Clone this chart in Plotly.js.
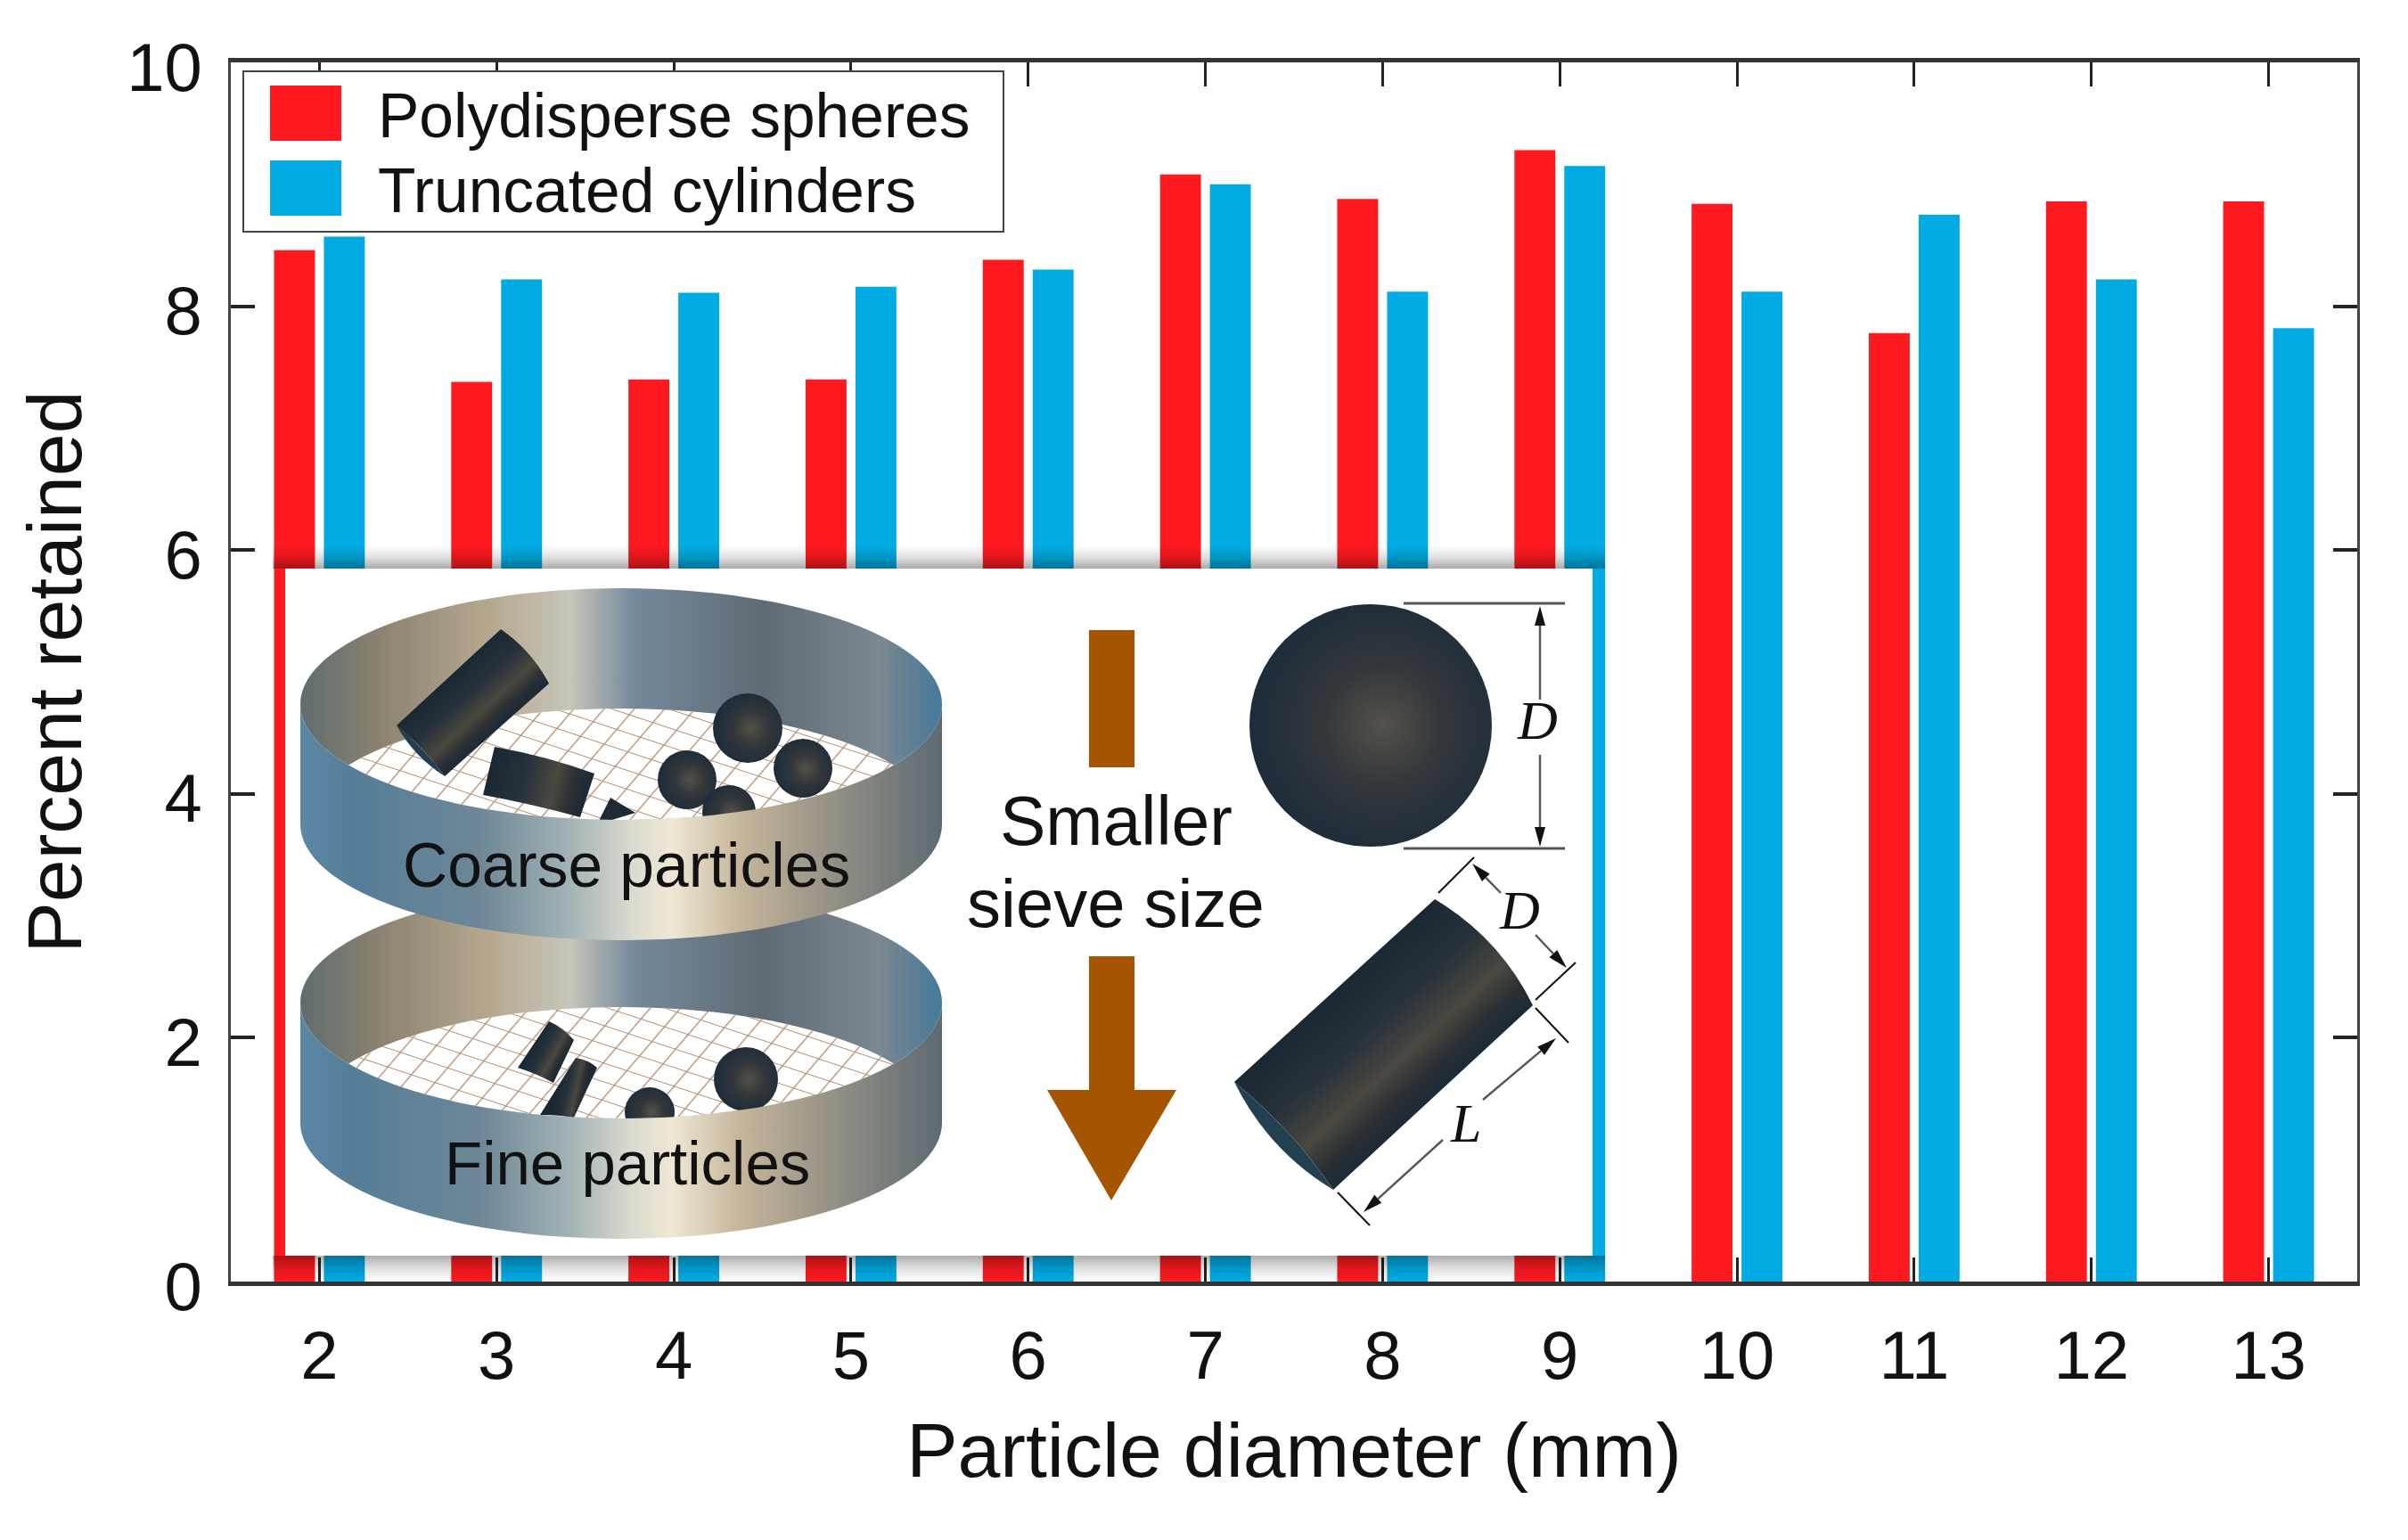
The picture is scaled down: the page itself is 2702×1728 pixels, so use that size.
<!DOCTYPE html>
<html>
<head>
<meta charset="utf-8">
<script src="https://cdn.plot.ly/plotly-3.0.1.min.js"></script>
<style>html,body{margin:0;padding:0;background:#fff}</style>
</head>
<body>
<div id="chart" style="width:2702px;height:1728px"></div>
<script>
// ---- chart data ----
var diameters = [2,3,4,5,6,7,8,9,10,11,12,13];
var sphereValues = [8.46,7.38,7.40,7.40,8.38,9.08,8.88,9.28,8.84,7.78,8.86,8.86];
var cylinderValues = [8.57,8.22,8.11,8.16,8.30,9.00,8.12,9.15,8.12,8.75,8.22,7.82];
var sphereName = 'Polydisperse spheres';
var cylinderName = 'Truncated cylinders';
var xTitle = 'Particle diameter (mm)';
var yTitle = 'Percent retained';
var yTicks = [0,2,4,6,8,10];

// ---- frame (page pixels) ----
var W = 2702, H = 1728, L = 259, R = 2645, T = 70, B = 1438;
function px(x){ return (x - L) / (R - L); }
function py(y){ return 1 - (y - T) / (B - T); }

// ---- inset illustration, an SVG placed as a layout image ----
var defs = '', body = '', gid = 0;
function stops(list){
  return list.map(function(s){ return '<stop offset="'+s[0]+'" stop-color="'+s[1]+'"'+(s[2]!==undefined?' stop-opacity="'+s[2]+'"':'')+'/>'; }).join('');
}
defs += '<linearGradient id="front" x1="0" x2="1" y1="0" y2="0">'+stops([[0,'#5c88a6'],[0.08,'#557d97'],[0.28,'#6d8797'],[0.42,'#a3b3b5'],[0.52,'#dcdcd0'],[0.58,'#efe8d4'],[0.68,'#c7b79c'],[0.85,'#8d8c82'],[1,'#5d6a72']])+'</linearGradient>';
defs += '<linearGradient id="back" x1="0" x2="1" y1="0" y2="0">'+stops([[0,'#5f6c6e'],[0.12,'#8a8270'],[0.3,'#b7a98f'],[0.42,'#c6c6ba'],[0.52,'#75899a'],[0.72,'#5f6b74'],[0.9,'#7b8890'],[1,'#45799a']])+'</linearGradient>';
defs += '<radialGradient id="ball" cx="0.55" cy="0.5" r="0.55">'+stops([[0,'#54514a'],[0.45,'#33373a'],[1,'#1c2c3a']])+'</radialGradient>';
defs += '<pattern id="mesh" width="30" height="30" patternUnits="userSpaceOnUse" patternTransform="scale(1,0.62) rotate(28)">'+
        '<path d="M0 0H30M0 0V30" stroke="#b4896a" stroke-width="3" fill="none"/></pattern>';
defs += '<linearGradient id="shTop" x1="0" x2="0" y1="0" y2="1">'+stops([[0,'#000',0],[0.5,'#000',0.12],[1,'#000',0.33]])+'</linearGradient>';
defs += '<linearGradient id="shBot" x1="0" x2="0" y1="0" y2="1">'+stops([[0,'#000',0.32],[0.5,'#000',0.12],[1,'#000',0]])+'</linearGradient>';

function ball(cx,cy,r){ return '<circle cx="'+cx+'" cy="'+cy+'" r="'+r+'" fill="url(#ball)"/>'; }
function cyl(A,B,C,D,bulge,cap){
  var id = 'c'+(gid++);
  var m1 = [(A[0]+D[0])/2,(A[1]+D[1])/2], m2 = [(B[0]+C[0])/2,(B[1]+C[1])/2];
  defs += '<linearGradient id="'+id+'" gradientUnits="userSpaceOnUse" x1="'+m1[0]+'" y1="'+m1[1]+'" x2="'+m2[0]+'" y2="'+m2[1]+'">'+
          stops([[0,'#1a2833'],[0.35,'#26313a'],[0.66,'#4a473f'],[0.85,'#2a2f33'],[1,'#1b2a36']])+'</linearGradient>';
  var top=[(A[0]+B[0])/2,(A[1]+B[1])/2], bot=[(C[0]+D[0])/2,(C[1]+D[1])/2];
  var dx=top[0]-bot[0], dy=top[1]-bot[1], n=Math.sqrt(dx*dx+dy*dy); dx/=n; dy/=n;
  var q1=[top[0]+dx*bulge,top[1]+dy*bulge], q2=[bot[0]-dx*bulge,bot[1]-dy*bulge], q3=[bot[0]+dx*bulge*0.5,bot[1]+dy*bulge*0.5];
  var s='';
  s+='<path d="M'+A+' Q'+q1+' '+B+' L'+C+' Q'+q3+' '+D+' Z" fill="url(#'+id+')"/>';
  if(cap){ s+='<path d="M'+C+' Q'+q3+' '+D+' Q'+q2+' '+C+' Z" fill="#22404f"/>'; }
  return s;
}
function sieve(cy,inside){
  var cx=697, rx=360, ry=130, h=135, id='clip'+(gid++);
  defs += '<clipPath id="'+id+'"><ellipse cx="'+cx+'" cy="'+cy+'" rx="'+rx+'" ry="'+ry+'"/></clipPath>';
  var s='';
  s+='<ellipse cx="'+cx+'" cy="'+cy+'" rx="'+rx+'" ry="'+ry+'" fill="url(#back)"/>';
  s+='<g clip-path="url(#'+id+')"><ellipse cx="'+cx+'" cy="'+(cy+h)+'" rx="'+(rx-4)+'" ry="'+ry+'" fill="#fff"/>'+
     '<ellipse cx="'+cx+'" cy="'+(cy+h)+'" rx="'+(rx-4)+'" ry="'+ry+'" fill="url(#mesh)"/></g>';
  s+=inside;
  s+='<path d="M'+(cx-rx)+' '+cy+' A'+rx+' '+ry+' 0 0 0 '+(cx+rx)+' '+cy+' L'+(cx+rx)+' '+(cy+h)+' A'+rx+' '+ry+' 0 0 1 '+(cx-rx)+' '+(cy+h)+' Z" fill="url(#front)"/>';
  return s;
}
function seg(a,b,w){ return '<line x1="'+a[0]+'" y1="'+a[1]+'" x2="'+b[0]+'" y2="'+b[1]+'" stroke="'+(w>2?'#555':'#111')+'" stroke-width="'+w+'"/>'; }
function arrow(a,b){
  var dx=b[0]-a[0], dy=b[1]-a[1], n=Math.sqrt(dx*dx+dy*dy); dx/=n; dy/=n;
  var l=22, w=6, p=[b[0]-dx*l,b[1]-dy*l];
  return seg(a,p,2.4)+'<path d="M'+b+' L'+(p[0]-dy*w)+','+(p[1]+dx*w)+' L'+(p[0]+dy*w)+','+(p[1]-dx*w)+' Z" fill="#111"/>';
}
// white panel and its soft shadow bands
body += '<rect x="306" y="612" width="1495" height="26" fill="url(#shTop)"/>';
body += '<rect x="306" y="1409" width="1495" height="29" fill="url(#shBot)"/>';
body += '<rect x="320" y="638" width="1467" height="771" fill="#fff"/>';
// lower sieve first so the upper one overlaps it
body += sieve(1125,
  cyl([616,1146],[644,1167],[621,1215],[581,1198],4,false)+
  cyl([646,1187],[670,1198],[644,1254],[606,1251],4,false)+
  ball(837,1211,36)+ball(729,1248,28));
body += sieve(790,
  cyl([562,706],[616,767],[499,871],[445,814],10,true)+
  cyl([555,838],[667,868],[651,917],[542,892],5,false)+
  '<path d="M685,895 L713,912 L670,925 Z" fill="#1f2a33"/>'+
  ball(839,817,39)+ball(771,875,33)+ball(901,862,33)+ball(818,911,30));
// direction arrow
body += '<rect x="1222" y="707" width="51" height="154" fill="#a55500"/>';
body += '<path d="M1222,1073 H1273 V1223 H1320 L1247,1347 L1175,1223 H1222 Z" fill="#a55500"/>';
// sphere
body += ball(1538,814,136);
body += seg([1575,677],[1756,677],3)+seg([1575,952],[1756,952],3);
body += arrow([1728,785],[1728,680])+arrow([1728,847],[1728,950]);
// cylinder
body += cyl([1610,1009],[1720,1128],[1496,1335],[1385,1214],24,true);
body += seg([1614,1002],[1654,962],2)+seg([1723,1122],[1768,1080],2);
body += arrow([1684,1002],[1652,969])+arrow([1723,1049],[1758,1086]);
body += seg([1723,1131],[1760,1170],2)+seg([1501,1338],[1537,1375],2);
body += arrow([1664,1234],[1746,1165])+arrow([1619,1279],[1530,1360]);

var iX0=300, iY0=600, iW=1510, iH=840;
var insetSvg = '<svg xmlns="http://www.w3.org/2000/svg" width="'+iW+'" height="'+iH+'" viewBox="'+iX0+' '+iY0+' '+iW+' '+iH+'"><defs>'+defs+'</defs>'+body+'</svg>';
var insetSource = 'data:image/svg+xml;base64,' + btoa(insetSvg);

// ---- inset labels ----
var sans = 'Liberation Sans, Arial, sans-serif';
var serif = 'Liberation Serif, Times New Roman, serif';
function label(text,x,y,size,family){
  return {text:text, xref:'paper', yref:'paper', x:px(x), y:py(y), xanchor:'center', yanchor:'middle',
          showarrow:false, font:{family:family||sans, size:size, color:'#111'}};
}
var labels = [
  label('Coarse particles',703,971,69.5),
  label('Fine particles',704,1305,69),
  label('Smaller',1252,921,77),
  label('sieve size',1252,1013,76),
  label('<i>D</i>',1725,808,62,serif),
  label('<i>D</i>',1705,1021,62,serif),
  label('<i>L</i>',1644,1260,62,serif)
];

// ---- traces ----
var traces = [
  {type:'bar', name:sphereName, x:diameters, y:sphereValues, marker:{color:'#ff1a1f', line:{width:0}}},
  {type:'bar', name:cylinderName, x:diameters, y:cylinderValues, marker:{color:'#00abe3', line:{width:0}}}
];

var layout = {
  width:W, height:H, autosize:false,
  margin:{l:L, r:W-R, t:T, b:H-B, pad:0},
  paper_bgcolor:'#fff', plot_bgcolor:'#fff',
  barmode:'group', bargap:0.437, bargroupgap:0.18,
  font:{family:sans, color:'#111'},
  showlegend:true,
  legend:{x:px(272), y:py(79), xanchor:'left', yanchor:'top', bgcolor:'#fff', bordercolor:'#444', borderwidth:2,
          font:{family:sans, size:69.5, color:'#111'}, itemwidth:140, traceorder:'normal', tracegroupgap:0},
  xaxis:{range:[1.5,13.5], tickmode:'array', tickvals:diameters, ticktext:diameters.map(String),
         ticks:'inside', ticklen:27, tickwidth:3, tickcolor:'#222',
         showline:true, linecolor:'#333', linewidth:5, mirror:'ticks', showgrid:false, zeroline:false,
         tickfont:{family:sans, size:76, color:'#111'}, ticklabelstandoff:13,
         title:{text:xTitle, font:{family:sans, size:86, color:'#111'}, standoff:36}, automargin:false},
  yaxis:{range:[0,10], tickmode:'array', tickvals:yTicks, ticktext:yTicks.map(String),
         ticks:'inside', ticklen:27, tickwidth:4, tickcolor:'#222',
         showline:true, linecolor:'#444', linewidth:3, mirror:'ticks', showgrid:false, zeroline:false,
         tickfont:{family:sans, size:76, color:'#111'}, ticklabelstandoff:14,
         title:{text:yTitle, font:{family:sans, size:86, color:'#111'}, standoff:23}, automargin:false},
  images:[{source:insetSource, xref:'paper', yref:'paper', x:px(iX0), y:py(iY0),
           sizex:iW/(R-L), sizey:iH/(B-T), xanchor:'left', yanchor:'top', sizing:'stretch', layer:'above', opacity:1}],
  annotations:labels
};

Plotly.newPlot('chart', traces, layout, {displayModeBar:false, staticPlot:true}).then(function(gd){
  // legend swatches, rows and box at the reference's size and spacing
  document.querySelectorAll('#chart .legend .legendpoints path').forEach(function(p){
    p.setAttribute('d','M34,31H-46V-31H34Z');
  });
  var rowY = [48, 132];
  document.querySelectorAll('#chart .legend .traces').forEach(function(g,i){
    var m = /translate\(([-\d.]+)[ ,]+([-\d.]+)\)/.exec(g.getAttribute('transform')||'');
    if(m){ g.setAttribute('transform','translate('+m[1]+','+rowY[i]+')'); }
  });
  var bg = document.querySelector('#chart .legend rect.bg');
  if(bg){ bg.setAttribute('height', 180); bg.setAttribute('width', 853); }
  // value-axis labels sit slightly below their ticks in the reference
  document.querySelectorAll('#chart .ytick text').forEach(function(t){
    t.setAttribute('y', parseFloat(t.getAttribute('y')||0) + 5);
  });
});
</script>
</body>
</html>
